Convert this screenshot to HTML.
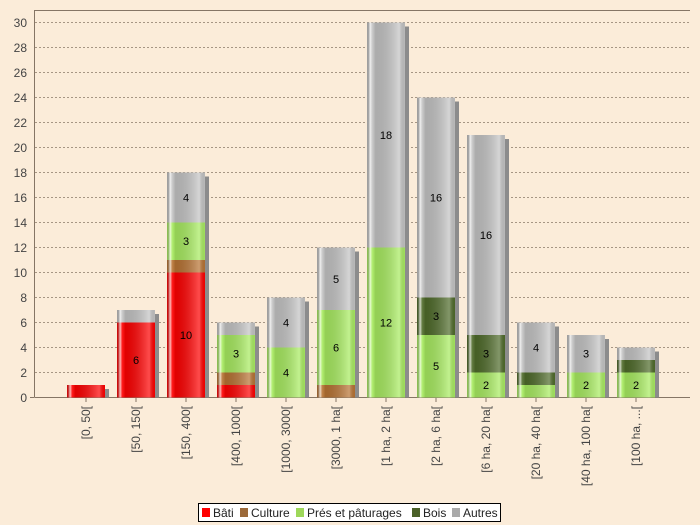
<!DOCTYPE html>
<html><head><meta charset="utf-8"><style>
html,body{margin:0;padding:0;background:#fbecd9;}
svg{display:block;font-family:"Liberation Sans","DejaVu Sans",sans-serif;}
</style></head><body>
<svg width="700" height="525" viewBox="0 0 700 525" xmlns="http://www.w3.org/2000/svg">
<defs>
<linearGradient id="g" x1="0" x2="1" y1="0" y2="0">
<stop offset="0" stop-color="#000" stop-opacity="0.15"/>
<stop offset="0.08" stop-color="#fff" stop-opacity="0.75"/>
<stop offset="0.14" stop-color="#fff" stop-opacity="0.1"/>
<stop offset="0.22" stop-color="#000" stop-opacity="0.12"/>
<stop offset="0.85" stop-color="#fff" stop-opacity="0.3"/>
<stop offset="1" stop-color="#000" stop-opacity="0.05"/>
</linearGradient>
</defs>
<rect width="700" height="525" fill="#fbecd9"/>
<g stroke="#8a7a68" stroke-width="0.8" stroke-dasharray="2,2">
<line x1="35" x2="690" y1="372.5" y2="372.5"/><line x1="35" x2="690" y1="347.5" y2="347.5"/>
<line x1="35" x2="690" y1="322.5" y2="322.5"/><line x1="35" x2="690" y1="297.5" y2="297.5"/>
<line x1="35" x2="690" y1="272.5" y2="272.5"/><line x1="35" x2="690" y1="247.5" y2="247.5"/>
<line x1="35" x2="690" y1="222.5" y2="222.5"/><line x1="35" x2="690" y1="197.5" y2="197.5"/>
<line x1="35" x2="690" y1="172.5" y2="172.5"/><line x1="35" x2="690" y1="147.5" y2="147.5"/>
<line x1="35" x2="690" y1="122.5" y2="122.5"/><line x1="35" x2="690" y1="97.5" y2="97.5"/>
<line x1="35" x2="690" y1="72.5" y2="72.5"/><line x1="35" x2="690" y1="47.5" y2="47.5"/>
<line x1="35" x2="690" y1="22.5" y2="22.5"/>
</g>
<path d="M34.5 397.5V10.5H690M34.5 397.5H690" fill="none" stroke="#857565" stroke-width="1"/>
<g font-size="12" fill="#444" text-anchor="end">
<text x="27" y="402">0</text><text x="27" y="377">2</text><text x="27" y="352">4</text><text x="27" y="327">6</text>
<text x="27" y="302">8</text><text x="27" y="277">10</text><text x="27" y="252">12</text><text x="27" y="227">14</text>
<text x="27" y="202">16</text><text x="27" y="177">18</text><text x="27" y="152">20</text><text x="27" y="127">22</text>
<text x="27" y="102">24</text><text x="27" y="77">26</text><text x="27" y="52">28</text><text x="27" y="27">30</text>
</g>
<line x1="30" x2="34" y1="397.5" y2="397.5" stroke="#857565"/>

<!-- shadows -->
<g fill="#8c8c8c">
<rect x="105" y="389" width="4" height="8.5"/>
<rect x="155" y="314" width="4" height="83.5"/>
<rect x="205" y="176.5" width="4" height="221"/>
<rect x="255" y="326.5" width="4" height="71"/>
<rect x="305" y="301.5" width="4" height="96"/>
<rect x="355" y="251.5" width="4" height="146"/>
<rect x="405" y="26.5" width="4" height="371"/>
<rect x="455" y="101.5" width="4" height="296"/>
<rect x="505" y="139" width="4" height="258.5"/>
<rect x="555" y="326.5" width="4" height="71"/>
<rect x="605" y="339" width="4" height="58.5"/>
<rect x="655" y="351.5" width="4" height="46"/>
</g>

<!-- colored segments -->
<g>
<rect x="67" y="385" width="38" height="12.5" fill="#ff0000"/>

<rect x="117" y="322.5" width="38" height="75" fill="#ff0000"/>
<rect x="117" y="310" width="38" height="12.5" fill="#c4c4c4"/>

<rect x="167" y="272.5" width="38" height="125" fill="#ff0000"/>
<rect x="167" y="260" width="38" height="12.5" fill="#b87333"/>
<rect x="167" y="222.5" width="38" height="37.5" fill="#a8ec60"/>
<rect x="167" y="172.5" width="38" height="50" fill="#c4c4c4"/>

<rect x="217" y="385" width="38" height="12.5" fill="#ff0000"/>
<rect x="217" y="372.5" width="38" height="12.5" fill="#b87333"/>
<rect x="217" y="335" width="38" height="37.5" fill="#a8ec60"/>
<rect x="217" y="322.5" width="38" height="12.5" fill="#c4c4c4"/>

<rect x="267" y="347.5" width="38" height="50" fill="#a8ec60"/>
<rect x="267" y="297.5" width="38" height="50" fill="#c4c4c4"/>

<rect x="317" y="385" width="38" height="12.5" fill="#b87333"/>
<rect x="317" y="310" width="38" height="75" fill="#a8ec60"/>
<rect x="317" y="247.5" width="38" height="62.5" fill="#c4c4c4"/>

<rect x="367" y="247.5" width="38" height="150" fill="#a8ec60"/>
<rect x="367" y="22.5" width="38" height="225" fill="#c4c4c4"/>

<rect x="417" y="335" width="38" height="62.5" fill="#a8ec60"/>
<rect x="417" y="297.5" width="38" height="37.5" fill="#4f6b2a"/>
<rect x="417" y="97.5" width="38" height="200" fill="#c4c4c4"/>

<rect x="467" y="372.5" width="38" height="25" fill="#a8ec60"/>
<rect x="467" y="335" width="38" height="37.5" fill="#4f6b2a"/>
<rect x="467" y="135" width="38" height="200" fill="#c4c4c4"/>

<rect x="517" y="385" width="38" height="12.5" fill="#a8ec60"/>
<rect x="517" y="372.5" width="38" height="12.5" fill="#4f6b2a"/>
<rect x="517" y="322.5" width="38" height="50" fill="#c4c4c4"/>

<rect x="567" y="372.5" width="38" height="25" fill="#a8ec60"/>
<rect x="567" y="335" width="38" height="37.5" fill="#c4c4c4"/>

<rect x="617" y="372.5" width="38" height="25" fill="#a8ec60"/>
<rect x="617" y="360" width="38" height="12.5" fill="#4f6b2a"/>
<rect x="617" y="347.5" width="38" height="12.5" fill="#c4c4c4"/>
</g>

<!-- gradient overlays -->
<g fill="url(#g)">
<rect x="67" y="385" width="38" height="12.5"/>
<rect x="117" y="310" width="38" height="87.5"/>
<rect x="167" y="172.5" width="38" height="225"/>
<rect x="217" y="322.5" width="38" height="75"/>
<rect x="267" y="297.5" width="38" height="100"/>
<rect x="317" y="247.5" width="38" height="150"/>
<rect x="367" y="22.5" width="38" height="375"/>
<rect x="417" y="97.5" width="38" height="300"/>
<rect x="467" y="135" width="38" height="262.5"/>
<rect x="517" y="322.5" width="38" height="75"/>
<rect x="567" y="335" width="38" height="62.5"/>
<rect x="617" y="347.5" width="38" height="50"/>
</g>

<!-- value labels -->
<g font-size="11" fill="#000" text-anchor="middle">
<text x="136" y="364">6</text>
<text x="186" y="339">10</text><text x="186" y="245">3</text><text x="186" y="201.5">4</text>
<text x="236" y="357.5">3</text>
<text x="286" y="376.5">4</text><text x="286" y="326.5">4</text>
<text x="336" y="351.5">6</text><text x="336" y="283">5</text>
<text x="386" y="326.5">12</text><text x="386" y="139">18</text>
<text x="436" y="370">5</text><text x="436" y="320">3</text><text x="436" y="201.5">16</text>
<text x="486" y="389">2</text><text x="486" y="357.5">3</text><text x="486" y="239">16</text>
<text x="536" y="351.5">4</text>
<text x="586" y="389">2</text><text x="586" y="357.5">3</text>
<text x="636" y="389">2</text>
</g>

<!-- x ticks and labels -->
<g stroke="#857565">
<line x1="86" x2="86" y1="398" y2="402"/><line x1="136" x2="136" y1="398" y2="402"/>
<line x1="186" x2="186" y1="398" y2="402"/><line x1="236" x2="236" y1="398" y2="402"/>
<line x1="286" x2="286" y1="398" y2="402"/><line x1="336" x2="336" y1="398" y2="402"/>
<line x1="386" x2="386" y1="398" y2="402"/><line x1="436" x2="436" y1="398" y2="402"/>
<line x1="486" x2="486" y1="398" y2="402"/><line x1="536" x2="536" y1="398" y2="402"/>
<line x1="586" x2="586" y1="398" y2="402"/><line x1="636" x2="636" y1="398" y2="402"/>
</g>
<g font-size="12" fill="#444" text-anchor="end">
<text transform="translate(90,406) rotate(-90)">[0, 50[</text>
<text transform="translate(140,406) rotate(-90)">[50, 150[</text>
<text transform="translate(190,406) rotate(-90)">[150, 400[</text>
<text transform="translate(240,406) rotate(-90)">[400, 1000[</text>
<text transform="translate(290,406) rotate(-90)">[1000, 3000[</text>
<text transform="translate(340,406) rotate(-90)">[3000, 1 ha[</text>
<text transform="translate(390,406) rotate(-90)">[1 ha, 2 ha[</text>
<text transform="translate(440,406) rotate(-90)">[2 ha, 6 ha[</text>
<text transform="translate(490,406) rotate(-90)">[6 ha, 20 ha[</text>
<text transform="translate(540,406) rotate(-90)">[20 ha, 40 ha[</text>
<text transform="translate(590,406) rotate(-90)">[40 ha, 100 ha[</text>
<text transform="translate(640,406) rotate(-90)">[100 ha, ...[</text>
</g>

<rect x="198.5" y="503.5" width="302" height="18" fill="#fff" stroke="#000"/>
<g font-size="12" fill="#222">
<rect x="202" y="508" width="8" height="9" fill="#ff0000"/><text x="213" y="517">Bâti</text>
<rect x="240" y="508" width="8" height="9" fill="#9c6a3a"/><text x="251" y="517">Culture</text>
<rect x="296" y="508" width="8" height="9" fill="#9ed85a"/><text x="307" y="517">Prés et pâturages</text>
<rect x="412" y="508" width="8" height="9" fill="#4b6128"/><text x="423" y="517">Bois</text>
<rect x="452" y="508" width="8" height="9" fill="#aaaaaa"/><text x="463" y="517">Autres</text>
</g>
</svg>
</body></html>
